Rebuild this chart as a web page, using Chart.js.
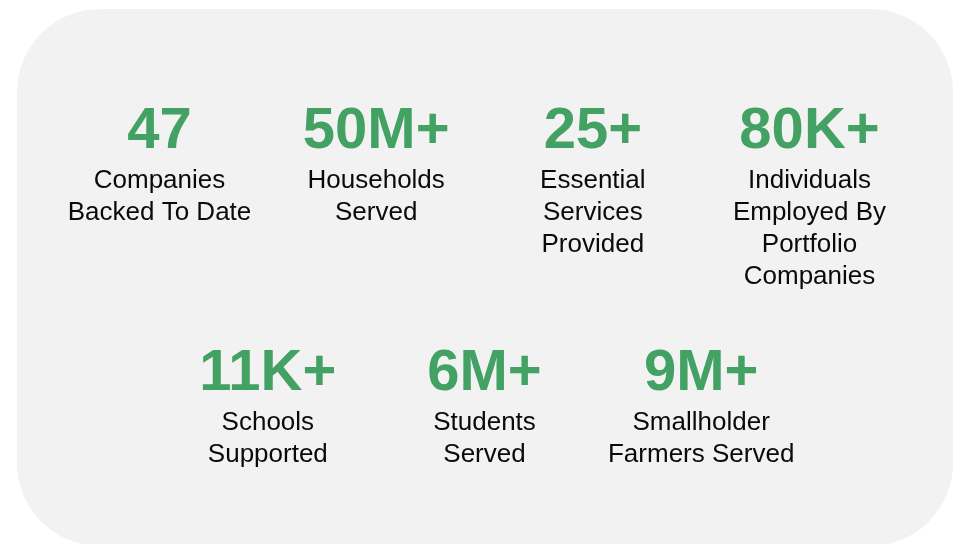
<!DOCTYPE html>
<html lang="en">
<head>
    <meta charset="UTF-8">
    <meta name="viewport" content="width=device-width, initial-scale=1.0">
    <title>Portfolio Impact</title>
    <script src="https://cdn.jsdelivr.net/npm/chart.js"></script>
    <style>
        html, body { margin: 0; padding: 0; background: #ffffff; }
        #wrap { width: 956px; height: 544px; position: relative; }
    </style>
</head>
<body>
    <div id="wrap">
        <canvas id="impactChart"></canvas>
    </div>

    <script>
        // top row of figures
        const topValues = ['47', '50M+', '25+', '80K+'];
        const topLabels = [
            ['Companies', 'Backed To Date'],
            ['Households', 'Served'],
            ['Essential', 'Services', 'Provided'],
            ['Individuals', 'Employed By', 'Portfolio', 'Companies']
        ];

        // bottom row of figures (sits between the top row columns)
        const bottomValues = ['11K+', '6M+', '9M+'];
        const bottomLabels = [
            ['Schools', 'Supported'],
            ['Students', 'Served'],
            ['Smallholder', 'Farmers Served']
        ];

        const green = '#43a163';
        const labelColor = '#0a0a0a';
        const fontFamily = '"Liberation Sans", Arial, sans-serif';

        // grey card behind everything
        const cardPlugin = {
            id: 'card',
            beforeDraw(chart) {
                const c = chart.ctx;
                c.save();
                c.fillStyle = '#f2f2f2';
                c.beginPath();
                c.roundRect(17, 9, 936, 537, 83);
                c.fill();
                c.restore();
            }
        };

        // writes the big number and its caption at each point
        const statPlugin = {
            id: 'stats',
            afterDatasetsDraw(chart) {
                const c = chart.ctx;
                c.save();
                c.textAlign = 'center';
                c.textBaseline = 'alphabetic';
                chart.data.datasets.forEach((ds, di) => {
                    const meta = chart.getDatasetMeta(di);
                    meta.data.forEach((pt, i) => {
                        c.fillStyle = green;
                        c.font = 'bold 58px ' + fontFamily;
                        c.fillText(ds.values[i], pt.x, pt.y);
                        c.fillStyle = labelColor;
                        c.font = '26px ' + fontFamily;
                        ds.captions[i].forEach((line, k) => {
                            c.fillText(line, pt.x, pt.y + 40 + k * 32);
                        });
                    });
                });
                c.restore();
            }
        };

        const ctx = document.getElementById('impactChart').getContext('2d');
        const impactChart = new Chart(ctx, {
            type: 'scatter',
            data: {
                datasets: [
                    {
                        label: 'top',
                        data: topValues.map((v, i) => ({ x: i, y: 0 })),
                        values: topValues,
                        captions: topLabels,
                        pointRadius: 0
                    },
                    {
                        label: 'bottom',
                        data: bottomValues.map((v, i) => ({ x: i + 0.5, y: 1 })),
                        values: bottomValues,
                        captions: bottomLabels,
                        pointRadius: 0
                    }
                ]
            },
            options: {
                responsive: true,
                maintainAspectRatio: false,
                animation: false,
                layout: {
                    padding: { left: 159.5, right: 146.5, top: 148, bottom: 154.5 }
                },
                scales: {
                    x: { type: 'linear', min: 0, max: 3, display: false },
                    y: { type: 'linear', min: 0, max: 1, reverse: true, display: false }
                },
                plugins: {
                    legend: { display: false },
                    tooltip: { enabled: false }
                }
            },
            plugins: [cardPlugin, statPlugin]
        });
    </script>
</body>
</html>
